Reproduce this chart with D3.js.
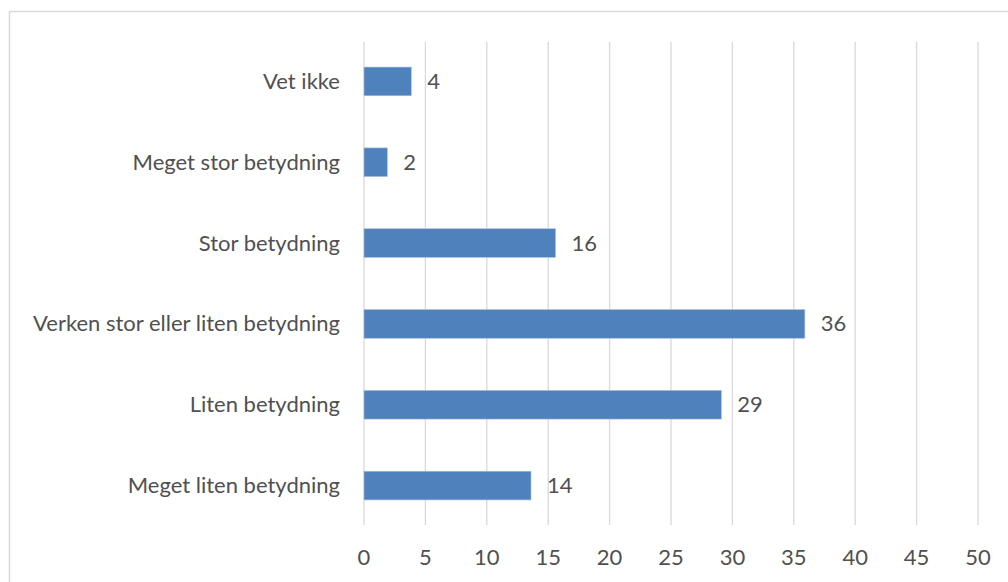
<!DOCTYPE html>
<html>
<head>
<meta charset="utf-8">
<script src="https://cdn.jsdelivr.net/npm/d3@7"></script>
<style>
  body { margin: 0; background: #fff; }
  text { font-family: Lato, "Open Sans", sans-serif; fill: #505050; }
</style>
</head>
<body>
<div id="chart"></div>
<script>
const width = 1008
const height = 582
const margin = { top: 41, right: 30, bottom: 56, left: 364 }

// data, top to bottom
const categories = ["Vet ikke", "Meget stor betydning", "Stor betydning",
  "Verken stor eller liten betydning", "Liten betydning", "Meget liten betydning"]
const values = [3.85, 1.9, 15.6, 35.9, 29.1, 13.6]
const xTicks = [0, 5, 10, 15, 20, 25, 30, 35, 40, 45, 50]

const fontSize = 22
const textNudge = 2 // Lato sits a bit high with dominant-baseline middle

const svg = d3.select("#chart").append("svg")
  .attr("width", width).attr("height", height)

// chart frame
svg.append("rect")
  .attr("x", 9.5).attr("y", 11.5)
  .attr("width", 1020).attr("height", 600)
  .attr("fill", "none").attr("stroke", "#d9d9d9").attr("stroke-width", 1.5)

const x = d3.scaleLinear().domain([0, 50]).range([margin.left, 978])
const y = d3.scaleBand().domain(categories)
  .range([margin.top, height - margin.bottom]).paddingInner(0.645).paddingOuter(0.3225)

// vertical gridlines
svg.append("g").selectAll("line").data(xTicks)
  .join("line")
    .attr("x1", d => x(d)).attr("x2", d => x(d))
    .attr("y1", 42).attr("y2", 525)
    .attr("stroke", "#d9d9d9").attr("stroke-width", 1.3)

// x tick labels
svg.append("g").selectAll("text").data(xTicks)
  .join("text")
    .attr("x", d => x(d)).attr("y", 557 + textNudge)
    .attr("text-anchor", "middle").attr("dominant-baseline", "middle")
    .attr("font-size", fontSize)
    .text(d => d)

// category labels
svg.append("g").selectAll("text").data(categories)
  .join("text")
    .attr("x", 340).attr("y", d => y(d) + y.bandwidth() / 2 + textNudge)
    .attr("text-anchor", "end").attr("dominant-baseline", "middle")
    .attr("font-size", fontSize)
    .text(d => d)

// bars
svg.append("g").selectAll("rect").data(values)
  .join("rect")
    .attr("x", x(0)).attr("y", (d, i) => y(categories[i]))
    .attr("width", d => x(d) - x(0)).attr("height", y.bandwidth())
    .attr("fill", "#4f81bd")
    .attr("stroke", "#a9c0e0").attr("stroke-width", 0.6)

// value labels
svg.append("g").selectAll("text").data(values)
  .join("text")
    .attr("x", d => x(d) + 16).attr("y", (d, i) => y(categories[i]) + y.bandwidth() / 2 + textNudge)
    .attr("dominant-baseline", "middle")
    .attr("font-size", fontSize)
    .text(d => d3.format(".0f")(d))
</script>
</body>
</html>
